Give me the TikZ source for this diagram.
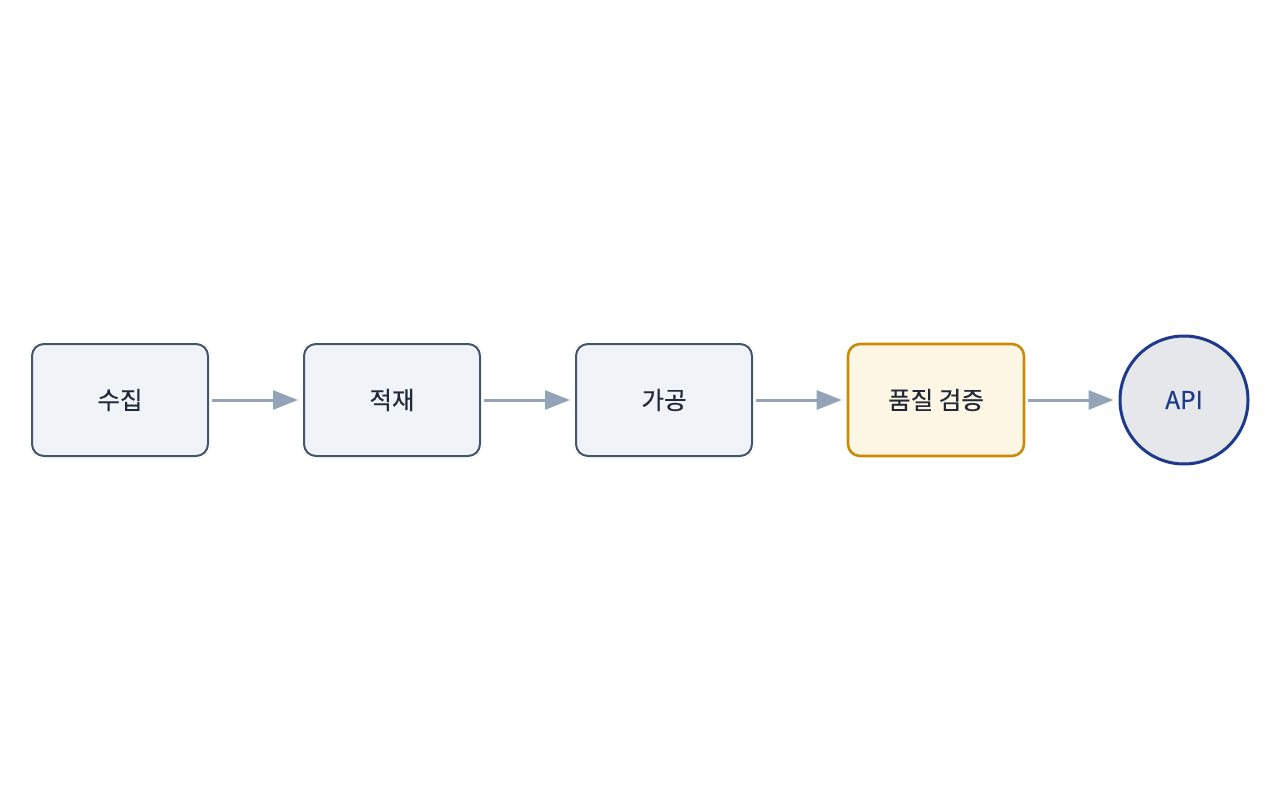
\documentclass[tikz,border=0pt]{standalone}
\usepackage{fontspec}
\setmainfont{Noto Sans CJK KR}[FakeBold=0.4]
\usetikzlibrary{arrows.meta}
\definecolor{boxfill}{HTML}{F0F4F9}
\definecolor{boxline}{HTML}{475569}
\definecolor{yfill}{HTML}{FEF6E4}
\definecolor{yline}{HTML}{CA8A04}
\definecolor{cfill}{HTML}{E5E7EB}
\definecolor{cline}{HTML}{1E3A8A}
\definecolor{arr}{HTML}{94A3B8}
\definecolor{txt}{HTML}{1F2937}
\tikzset{
  stepbox/.style={draw=boxline, fill=boxfill, line width=2pt, rounded corners=12pt,
    minimum width=176pt, minimum height=112pt, inner sep=0pt, text=txt,
    font=\fontsize{24.5}{28}\selectfont},
  qbox/.style={stepbox, draw=yline, fill=yfill, line width=2.6pt},
  endcirc/.style={circle, draw=cline, fill=cfill, line width=3pt, minimum size=128pt,
    inner sep=0pt, text=cline, font=\fontsize{24.5}{28}\selectfont},
  flow/.style={draw=arr, line width=3pt, -{Triangle[length=25pt,width=19pt]}, shorten <=3pt, shorten >=5pt}
}
\begin{document}
\begin{tikzpicture}[x=1pt,y=-1pt]
\useasboundingbox (0,0) rectangle (1280,800);
\node[stepbox] (a) at (120,400) {수집};
\node[stepbox] (b) at (392,400) {적재};
\node[stepbox] (c) at (664,400) {가공};
\node[qbox] (d) at (936,400) {품질 검증};
\node[endcirc] (e) at (1184,400) {API};
\draw[flow] (a) -- (b);
\draw[flow] (b) -- (c);
\draw[flow] (c) -- (d);
\draw[flow] (d) -- (e);
\end{tikzpicture}
\end{document}
